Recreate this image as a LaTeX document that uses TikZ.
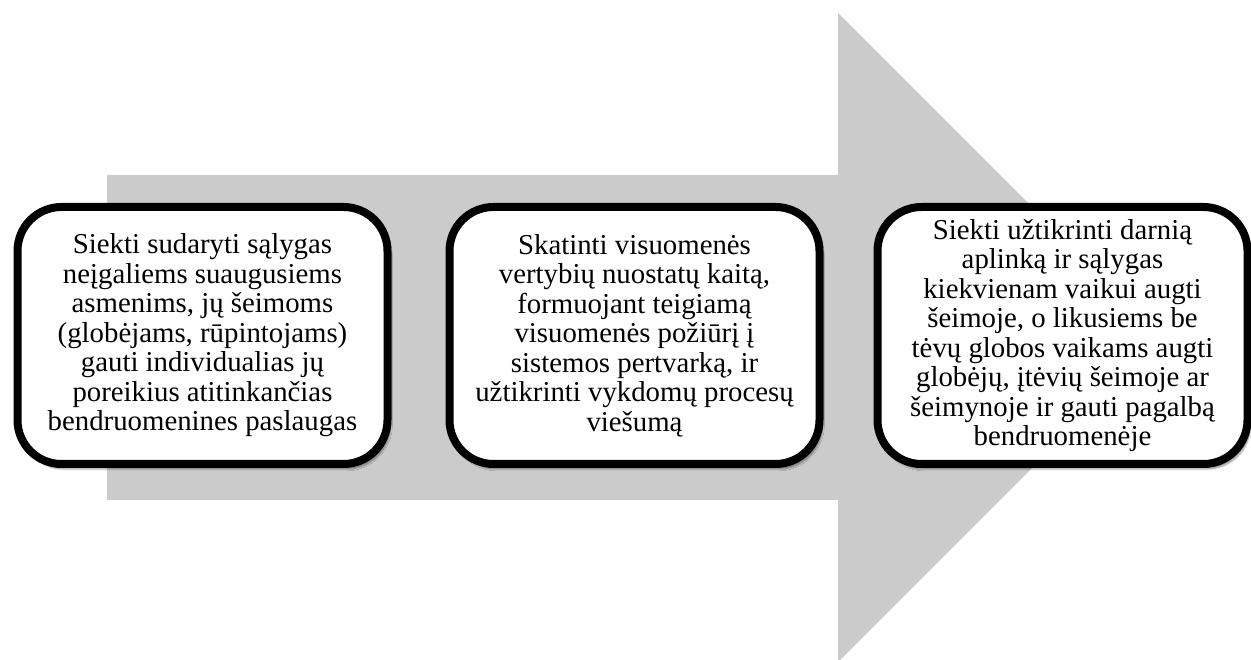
\documentclass[tikz,border=0pt]{standalone}
\usepackage{fontspec}
\setmainfont{Liberation Serif}
\usepackage{tikz}
\usetikzlibrary{shadows.blur}

\begin{document}
\begin{tikzpicture}[x=1pt,y=1pt,
    goal/.style={rounded corners=44pt,draw=black,fill=white,line width=8pt,
      minimum width=370pt,minimum height=257pt,inner sep=0pt,align=center,
      font=\fontsize{28.8}{29.5}\selectfont,
      blur shadow={shadow xshift=3pt,shadow yshift=-5pt,shadow blur steps=8,shadow opacity=45}}]

    \useasboundingbox (0,0) rectangle (1251,659);

    % big grey arrow behind the boxes
    \fill[fill={rgb,255:red,203;green,203;blue,203}]
      (107,484) -- (838,484) -- (838,646) -- (1162.5,321.5)
      -- (838,-3) -- (838,159) -- (107,159) -- cycle;

    \node[goal]         (g1) at (202.5, 323.5)    {Siekti sudaryti sąlygas\\neįgaliems suaugusiems\\asmenims, jų šeimoms\\(globėjams, rūpintojams)\\gauti individualias jų\\poreikius atitinkančias\\bendruomenines paslaugas};
    \node[goal]         (g2) at (634.5, 323.5)    {Skatinti visuomenės\\vertybių nuostatų kaitą,\\formuojant teigiamą\\visuomenės požiūrį į\\sistemos pertvarką, ir\\užtikrinti vykdomų procesų\\viešumą};
    \node[goal]         (g3) at (1062.5, 323.5)   {Siekti užtikrinti darnią\\aplinką ir sąlygas\\kiekvienam vaikui augti\\šeimoje, o likusiems be\\tėvų globos vaikams augti\\globėjų, įtėvių šeimoje ar\\šeimynoje ir gauti pagalbą\\bendruomenėje};
  \end{tikzpicture}
\end{document}
